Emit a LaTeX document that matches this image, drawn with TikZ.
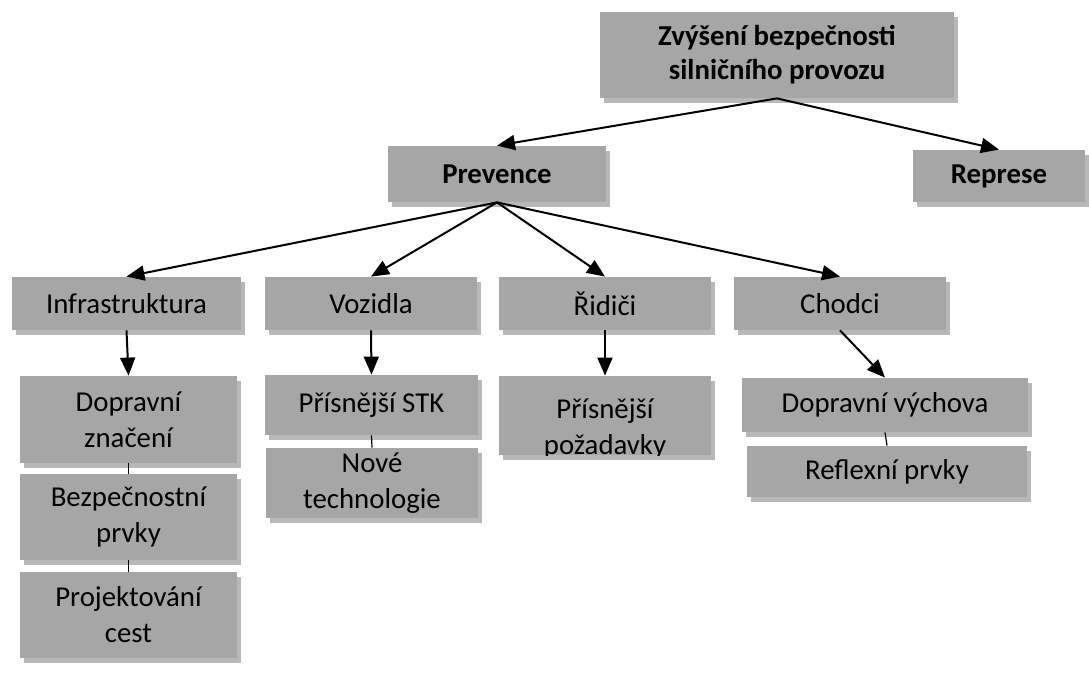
\documentclass[tikz,border=0pt]{standalone}
\usepackage{fontspec}
\setmainfont{Carlito}
\usetikzlibrary{arrows.meta,shadows}
\definecolor{boxgrey}{HTML}{A6A6A6}
\definecolor{boxshade}{HTML}{B8B8B8}

\begin{document}
\begin{tikzpicture}[x=0.5pt,y=-0.5pt,
		box/.style={fill=boxgrey,inner sep=0pt,align=center,
			font=\fontsize{14.4}{18}\selectfont,
			general shadow={fill=boxshade,draw=none,shadow xshift=1.8pt,shadow yshift=-2.5pt}},
		head/.style={box,font=\fontsize{14.4}{17}\selectfont\bfseries},
		link/.style={line width=1pt,-{Triangle[length=9pt,width=7.5pt]}},
		tie/.style={line width=0.6pt}]
		\useasboundingbox (0,0) rectangle (1089,673);
		%Top
		\node[head,minimum width=177pt,minimum height=43pt] (road) at (777,55) {Zvýšení bezpečnosti\\silničního provozu};
		\node[head,minimum width=109pt,minimum height=28pt] (prev) at (497,174) {Prevence};
		\node[head,minimum width=86pt,minimum height=26pt] (repr) at (999,176) {Represe};
		%Groups
		\node[box,minimum width=114.5pt,minimum height=26.5pt] (infra) at (126.5,303.5) {Infrastruktura};
		\node[box,minimum width=106pt,minimum height=26.5pt] (vozi) at (371,303.5) {Vozidla};
		\node[box,minimum width=106pt,minimum height=26.5pt] (ridi) at (605,303.5) {Řidiči};
		\node[box,minimum width=106pt,minimum height=26.5pt] (chod) at (840,303.5) {Chodci};
		%Measures
		\node[box,minimum width=108.5pt,minimum height=43.5pt] (znac) at (128.5,419.5) {Dopravní\\značení};
		\node[box,minimum width=108.5pt,minimum height=43pt] (prvk) at (128.5,517) {Bezpečnostní\\prvky};
		\node[box,minimum width=108.5pt,minimum height=43pt] (proj) at (128.5,615) {Projektování\\cest};
		\node[box,minimum width=106.5pt,minimum height=30pt] (stk) at (371.5,405) {Přísnější STK};
		\node[box,minimum width=106pt,minimum height=35pt] (tech) at (372,483) {Nové\\technologie};
		\node[box,minimum width=106pt,minimum height=39.5pt] (pozad) at (605,415.5) {};
		\begin{scope}
			\clip (pozad.south west) rectangle (pozad.north east);
			\node[align=center,font=\fontsize{14.4}{18}\selectfont] (pozadtext) at ([yshift=-6.5pt]pozad.center) {Přísnější\\požadavky};
		\end{scope}
		\node[box,minimum width=143pt,minimum height=27pt] (vych) at (885,405) {Dopravní výchova};
		\node[box,minimum width=140pt,minimum height=25.5pt] (refl) at (887,471.5) {Reflexní prvky};
		%Arrows
		\draw[link] (road.south) -- (prev.north);
		\draw[link] (road.south) -- (repr.north);
		\foreach \n in {infra,vozi,ridi,chod}
			\draw[link] (prev.south) -- (\n.north);
		\foreach \n/\m in {infra/znac,vozi/stk,ridi/pozad,chod/vych}
			\draw[link] (\n.south) -- (\m.north);
		%Lines
		\draw[tie] (znac.south) -- (prvk.north);
		\draw[tie] (prvk.south) -- (proj.north);
		\draw[tie] (stk.south) -- (tech.north);
		\draw[tie] (vych.south) -- (refl.north);
\end{tikzpicture}
\end{document}
